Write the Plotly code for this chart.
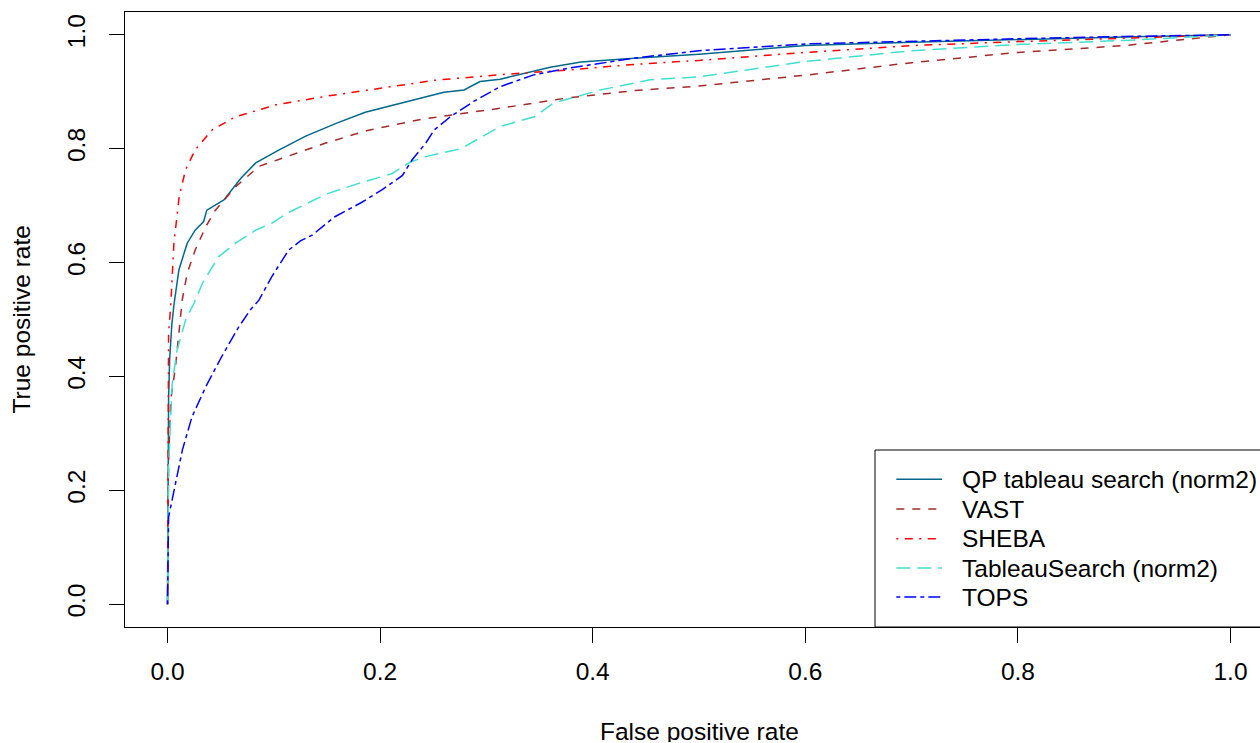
import plotly.graph_objects as go

# ---------------- data ----------------
series_names = ["QP tableau search (norm2)", "VAST", "SHEBA",
                "TableauSearch (norm2)", "TOPS"]

qp_fpr = [0, 0.0005, 0.001, 0.002, 0.004, 0.006, 0.0107, 0.0185, 0.026, 0.034,
          0.037, 0.053, 0.069, 0.083, 0.105, 0.130, 0.158, 0.186, 0.211, 0.243,
          0.26, 0.279, 0.294, 0.313, 0.338, 0.360, 0.389, 0.439, 0.5, 0.6,
          0.7, 0.8, 0.9, 1.0]
qp_tpr = [0, 0.2, 0.36, 0.43, 0.49, 0.525, 0.587, 0.634, 0.657, 0.672,
          0.692, 0.71, 0.748, 0.775, 0.798, 0.822, 0.844, 0.864, 0.876, 0.891,
          0.899, 0.903, 0.918, 0.922, 0.933, 0.943, 0.952, 0.959, 0.966, 0.981,
          0.987, 0.992, 0.996, 1.0]

vast_fpr = [0, 0.001, 0.003, 0.0075, 0.0138, 0.0185, 0.026, 0.036, 0.045, 0.064,
            0.086, 0.117, 0.149, 0.188, 0.24, 0.313, 0.376, 0.439, 0.5, 0.6,
            0.7, 0.8, 0.9, 1.0]
vast_tpr = [0, 0.25, 0.358, 0.417, 0.534, 0.581, 0.622, 0.663, 0.692, 0.733,
            0.769, 0.789, 0.810, 0.832, 0.852, 0.871, 0.889, 0.902, 0.91, 0.929,
            0.951, 0.969, 0.981, 1.0]

sheba_fpr = [0, 0.0005, 0.001, 0.003, 0.006, 0.011, 0.017, 0.026, 0.042, 0.064,
             0.102, 0.149, 0.196, 0.251, 0.313, 0.376, 0.439, 0.5, 0.6, 0.7,
             0.8, 0.9, 1.0]
sheba_tpr = [0, 0.3, 0.476, 0.523, 0.634, 0.716, 0.763, 0.798, 0.833, 0.856,
             0.877, 0.892, 0.905, 0.920, 0.930, 0.938, 0.948, 0.955, 0.969, 0.981,
             0.988, 0.994, 1.0]

ts_fpr = [0, 0.0005, 0.001, 0.0044, 0.009, 0.017, 0.025, 0.033, 0.048, 0.064,
          0.083, 0.098, 0.114, 0.149, 0.180, 0.211, 0.229, 0.243, 0.276, 0.313,
          0.345, 0.363, 0.407, 0.454, 0.5, 0.6, 0.7, 0.8, 0.9, 1.0]
ts_tpr = [0, 0.12, 0.241, 0.388, 0.446, 0.499, 0.529, 0.564, 0.610, 0.634,
          0.657, 0.669, 0.688, 0.720, 0.739, 0.756, 0.777, 0.786, 0.800, 0.839,
          0.856, 0.880, 0.903, 0.921, 0.926, 0.953, 0.972, 0.983, 0.99, 1.0]

tops_fpr = [0, 0.0005, 0.001, 0.0075, 0.014, 0.023, 0.036, 0.051, 0.067, 0.078,
            0.086, 0.098, 0.114, 0.125, 0.136, 0.157, 0.182, 0.202, 0.221, 0.230,
            0.243, 0.251, 0.266, 0.288, 0.313, 0.345, 0.376, 0.439, 0.470, 0.5,
            0.6, 0.7, 0.8, 0.9, 1.0]
tops_tpr = [0, 0.1, 0.153, 0.212, 0.271, 0.329, 0.382, 0.435, 0.487, 0.517,
            0.534, 0.575, 0.622, 0.638, 0.648, 0.68, 0.705, 0.728, 0.753, 0.780,
            0.810, 0.833, 0.856, 0.883, 0.909, 0.930, 0.941, 0.959, 0.966, 0.972,
            0.984, 0.989, 0.993, 0.997, 1.0]

x_ticks = [0.0, 0.2, 0.4, 0.6, 0.8, 1.0]
x_tick_labels = ["0.0", "0.2", "0.4", "0.6", "0.8", "1.0"]
y_ticks = [0.0, 0.2, 0.4, 0.6, 0.8, 1.0]
y_tick_labels = ["0.0", "0.2", "0.4", "0.6", "0.8", "1.0"]

x_title = "False positive rate"
y_title = "True positive rate"

# ---------------- styles ----------------
colors = ["#00688B", "#A52A2A", "#FF0000", "#40E0D0", "#0000FF"]
dashes = ["solid", "8px,8px", "2px,6.5px,8px,6.5px", "14px,7px", "4px,4px,12px,4px"]
FONT = "Liberation Sans, Arial, Helvetica, sans-serif"
FS = 24.5

OFF = 0
W, H = 1260, 743
ML, MR, MT, MB = 125, 0, 12, 116
plot_w = W - ML - MR
plot_h = H - MT - MB
px_per_unit_x = 1063.0

xs = [qp_fpr, vast_fpr, sheba_fpr, ts_fpr, tops_fpr]
ys = [qp_tpr, vast_tpr, sheba_tpr, ts_tpr, tops_tpr]

fig = go.Figure()
for name, x, y, c, d in zip(series_names, xs, ys, colors, dashes):
    fig.add_trace(go.Scatter(x=x, y=y, mode="lines", name=name,
                             line=dict(color=c, width=1.5, dash=d),
                             showlegend=False))

x_lo = -0.04
x_hi = x_lo + plot_w / px_per_unit_x


def px_to_paper_x(px):
    return (px - OFF - ML) / plot_w


def px_to_paper_y(py):
    return (MT + plot_h - (py - OFF)) / plot_h


# legend drawn manually (R style box legend, bottom-right)
shapes = [dict(type="rect", xref="paper", yref="paper",
               x0=px_to_paper_x(875), x1=px_to_paper_x(1300),
               y0=0, y1=px_to_paper_y(450),
               line=dict(color="black", width=1), fillcolor="rgba(0,0,0,0)")]
annotations = []
row_y = [479.3, 509.0, 538.7, 568.0, 597.0]
for name, c, d, ry in zip(series_names, colors, dashes, row_y):
    shapes.append(dict(type="line", xref="paper", yref="paper",
                       x0=px_to_paper_x(896.3), x1=px_to_paper_x(942),
                       y0=px_to_paper_y(ry), y1=px_to_paper_y(ry),
                       line=dict(color=c, width=1.5, dash=d)))
    annotations.append(dict(xref="paper", yref="paper",
                            x=px_to_paper_x(960), y=px_to_paper_y(ry),
                            xanchor="left", yanchor="middle", showarrow=False,
                            text=name, font=dict(family=FONT, size=FS, color="black")))

annotations.append(dict(xref="x", yref="paper", x=0.5, y=0, yshift=-104,
                        xanchor="center", yanchor="middle", showarrow=False,
                        height=22, valign="middle",
                        text=x_title, font=dict(family=FONT, size=FS, color="black")))
annotations.append(dict(xref="paper", yref="y", x=0, xshift=-(125 - 21), y=0.5,
                        xanchor="center", yanchor="middle", showarrow=False, textangle=-90,
                        text=y_title, font=dict(family=FONT, size=FS, color="black")))

fig.update_layout(
    width=W, height=H,
    margin=dict(l=ML, r=MR, t=MT, b=MB, pad=0),
    paper_bgcolor="white", plot_bgcolor="white",
    font=dict(family=FONT, size=FS, color="black"),
    shapes=shapes, annotations=annotations,
    showlegend=False,
)
fig.update_xaxes(range=[x_lo, x_hi], tickvals=x_ticks, ticktext=x_tick_labels,
                 showgrid=False, zeroline=False, showline=True, mirror=True,
                 linecolor="black", linewidth=1, ticks="outside", ticklen=15,
                 tickwidth=1, tickcolor="black", ticklabelstandoff=8,
                 tickfont=dict(family=FONT, size=FS, color="black"))
fig.update_yaxes(range=[-0.04, 1.04], tickvals=y_ticks, ticktext=y_tick_labels,
                 showgrid=False, zeroline=False, showline=True, mirror=False,
                 linecolor="black", linewidth=1, ticks="outside", ticklen=15,
                 tickwidth=1, tickcolor="black", tickangle=-90, ticklabelstandoff=14,
                 tickfont=dict(family=FONT, size=FS, color="black"))

fig.write_html(
    "out.html",
    config={"displayModeBar": False},
    post_script="document.body.style.margin='0px';"
                "document.documentElement.style.overflow='hidden';"
                "document.body.style.overflow='hidden';",
)
